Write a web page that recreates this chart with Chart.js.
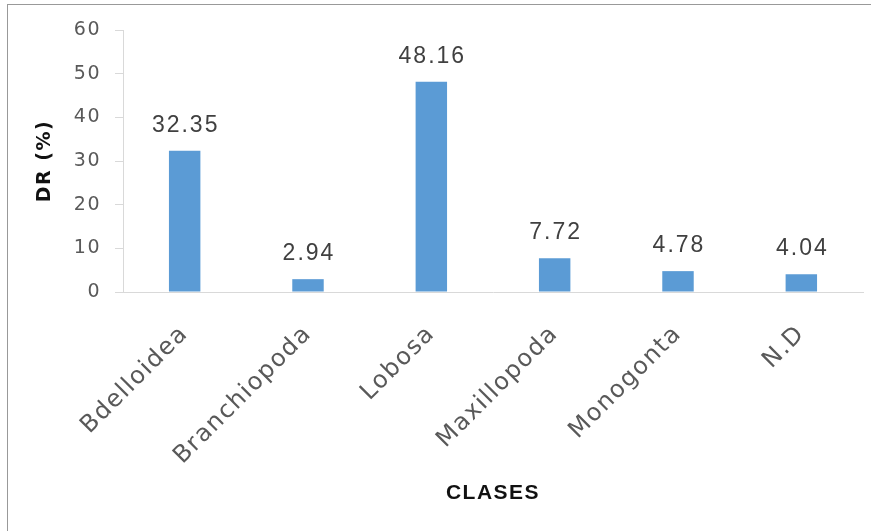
<!DOCTYPE html>
<html>
<head>
<meta charset="utf-8">
<script src="https://cdn.jsdelivr.net/npm/chart.js@4.4.0/dist/chart.umd.min.js"></script>
<style>
  html, body { margin: 0; padding: 0; background: #fff; }
  #wrap { position: relative; width: 871px; height: 531px; }
  #frame { position: absolute; left: 7px; top: 4px; right: 0; bottom: 0;
           border-left: 1px solid #999; border-top: 1px solid #999; }
  canvas { position: absolute; left: 0; top: 0; }
</style>
</head>
<body>
<div id="wrap">
  <div id="frame"></div>
  <canvas id="chart" width="871" height="531"></canvas>
</div>
<script>
// datos
const clases = ['Bdelloidea', 'Branchiopoda', 'Lobosa', 'Maxillopoda', 'Monogonta', 'N.D'];
const dr = [32.35, 2.94, 48.16, 7.72, 4.78, 4.04];
const yMin = 0, yMax = 60, yStep = 10;

const SPACING = '1.5px';

// espaciado de letras para imitar la fuente ancha del original
const spacingPlugin = {
  id: 'spacing',
  beforeLayout(chart) { chart.ctx.letterSpacing = SPACING; },
  beforeDraw(chart) { chart.ctx.letterSpacing = SPACING; }
};

// etiquetas de valor encima de cada barra
const barLabels = {
  id: 'barLabels',
  afterDatasetsDraw(chart) {
    const ctx = chart.ctx;
    const meta = chart.getDatasetMeta(0);
    ctx.save();
    ctx.letterSpacing = '2px';
    ctx.font = '23px "Liberation Sans"';
    ctx.fillStyle = '#404040';
    ctx.textAlign = 'center';
    ctx.textBaseline = 'alphabetic';
    meta.data.forEach((bar, i) => {
      ctx.fillText(dr[i].toFixed(2), bar.x + 1, bar.y - 19);
    });
    ctx.restore();
  }
};

new Chart(document.getElementById('chart'), {
  type: 'bar',
  data: {
    labels: clases,
    datasets: [{
      data: dr,
      backgroundColor: '#5b9bd5',
      categoryPercentage: 1,
      barPercentage: 0.255
    }]
  },
  options: {
    responsive: false,
    animation: false,
    devicePixelRatio: 1,
    layout: { padding: { left: 8, right: 8, top: 30, bottom: 0 } },
    plugins: {
      legend: { display: false },
      tooltip: { enabled: false }
    },
    scales: {
      x: {
        grid: { display: false },
        border: { color: '#d9d9d9', width: 1 },
        ticks: {
          minRotation: 45,
          maxRotation: 45,
          color: '#595959',
          padding: 20,
          font: { family: 'DejaVu Sans', size: 24 }
        },
        title: {
          display: true,
          text: 'CLASES',
          color: '#111',
          font: { family: 'Liberation Sans', weight: 'bold', size: 21 },
          padding: { top: 0, bottom: 25 }
        },
        afterFit: s => { s.height = 531 - 292; }
      },
      y: {
        min: yMin,
        max: yMax,
        ticks: {
          stepSize: yStep,
          color: '#595959',
          padding: 14,
          font: { family: 'DejaVu Sans', size: 19 }
        },
        grid: { drawOnChartArea: false, drawTicks: true, tickLength: 8, color: '#d9d9d9' },
        border: { color: '#d9d9d9', width: 1 },
        title: {
          display: true,
          text: 'DR (%)',
          color: '#111',
          font: { family: 'DejaVu Sans', weight: 'bold', size: 19 },
          padding: { top: 26, bottom: 0 }
        },
        afterFit: s => { s.width = 123 - 8; }
      }
    }
  },
  plugins: [spacingPlugin, barLabels]
});
</script>
</body>
</html>
